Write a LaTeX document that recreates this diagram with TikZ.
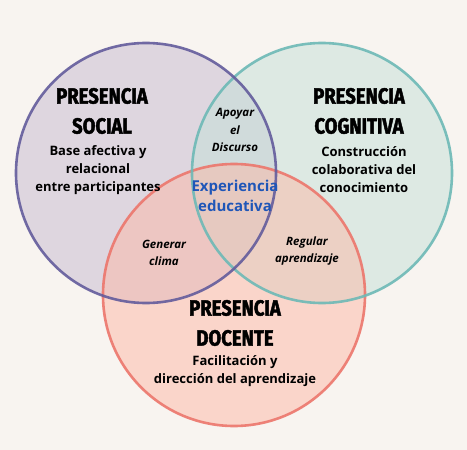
\documentclass[tikz,border=0pt]{standalone}
\usepackage{fontspec}
\usepackage{xcolor}
\usepackage{tikz}
\setmainfont{Open Sans}
\newfontfamily\titlefont{Fira Sans}[FakeStretch=0.84,BoldFeatures={FakeBold=2}]
\newfontfamily\bodyfont{Open Sans}
\definecolor{PaperBg}{HTML}{F8F4F0}
\definecolor{SocialLine}{HTML}{635C9C}
\definecolor{SocialFill}{HTML}{C6BAD0}
\definecolor{CogLine}{HTML}{6DB9B6}
\definecolor{CogFill}{HTML}{C4E0D8}
\definecolor{DocLine}{HTML}{EC766C}
\definecolor{DocFill}{HTML}{FCB8A6}
\definecolor{CoreBlue}{HTML}{1F56B8}

\tikzset{
  titletext/.style={align=center, inner sep=0pt, font=\titlefont\bfseries\fontsize{22}{30}\selectfont},
  bodytext/.style={align=center, inner sep=0pt, font=\bodyfont\bfseries\fontsize{13}{18}\selectfont},
  lenstext/.style={align=center, inner sep=0pt, font=\bodyfont\bfseries\itshape\fontsize{11.5}{17.5}\selectfont},
  coretext/.style={align=center, inner sep=0pt, text=CoreBlue, font=\bodyfont\bfseries\fontsize{15}{20}\selectfont},
}

\begin{document}
\begin{tikzpicture}[x=1pt,y=-1pt]
        \fill[PaperBg] (0,0) rectangle (467,450);
        \useasboundingbox (0,0) rectangle (467,450);

        % fills
        \fill[SocialFill,opacity=0.5] (146,173) circle (130pt);
        \fill[CogFill,opacity=0.5] (322,173) circle (130pt);
        \fill[DocFill,opacity=0.5] (234,295) circle (131pt);

        % outlines
        \draw[DocLine,line width=2.6pt,opacity=0.9] (234,295) circle (131pt);
        \draw[CogLine,line width=2.6pt,opacity=0.9] (322,173) circle (130pt);
        \draw[SocialLine,line width=2.6pt,opacity=0.9] (146,173) circle (130pt);

        % social
        \node[titletext] (socialtitle) at (102,111) {PRESENCIA\\SOCIAL};
        \node[bodytext] (socialtext) at (98,170) {Base afectiva y\\relacional\\entre participantes};

        % cognitive
        \node[titletext] (cogtitle) at (359,111) {PRESENCIA\\COGNITIVA};
        \node[bodytext] (cogtext) at (364,170) {Construcción\\colaborativa del\\conocimiento};

        % teaching
        \node[titletext] (doctitle) at (235,323) {PRESENCIA\\DOCENTE};
        \node[bodytext] (doctext) at (235,371) {Facilitación y\\dirección del aprendizaje};

        % overlaps
        \node[lenstext] (apoyar) at (235,130) {Apoyar\\el\\Discurso};
        \node[lenstext] (generar) at (164,253) {Generar\\clima};
        \node[lenstext] (regular) at (307,251) {Regular\\aprendizaje};
        \node[coretext] (core) at (235,196) {Experiencia\\educativa};

    \end{tikzpicture}
\end{document}
